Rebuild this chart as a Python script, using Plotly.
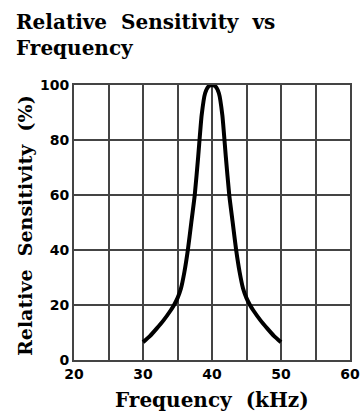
import plotly.graph_objects as go

freq_khz = [30, 31, 32, 33, 34, 34.5, 35, 35.5, 36, 36.5, 37, 37.5, 38, 38.5, 39, 39.5, 40,
            40.5, 41, 41.5, 42, 42.5, 43, 43.5, 44, 44.5, 45, 45.5, 46, 47, 48, 49, 50]
sensitivity = [6.5, 8.7, 11.5, 14.5, 18, 20, 22.5, 26, 32, 40, 50, 60, 74, 89, 97, 99.5, 100,
               99.5, 97, 89, 74, 60, 50, 40, 32, 26, 22.5, 20, 18, 14.5, 11.5, 8.7, 6.5]
x_grid = [20, 25, 30, 35, 40, 45, 50, 55, 60]
x_tick_labels = ["20", "", "30", "", "40", "", "50", "", "60"]
y_ticks = [0, 20, 40, 60, 80, 100]

serif = "DejaVu Serif"
tickfont = dict(family="DejaVu Sans", size=14, color="black", weight="bold")
titlefont = dict(family=serif, size=20, color="black", weight="bold")
yfont = dict(family=serif, size=19, color="black", weight="bold")

fig = go.Figure()
fig.add_trace(go.Scatter(
    x=freq_khz, y=sensitivity, mode="lines",
    line=dict(color="black", width=4, shape="spline", smoothing=0.5),
    hoverinfo="skip", showlegend=False,
))

axis_common = dict(
    showgrid=True, gridcolor="#444444", gridwidth=1.5,
    showline=True, linecolor="#444444", linewidth=2, mirror=True,
    zeroline=False, ticks="", tickfont=tickfont, automargin=False,
)
fig.update_xaxes(range=[20, 60], tickvals=x_grid, ticktext=x_tick_labels, **axis_common)
fig.update_yaxes(range=[0, 100], tickvals=y_ticks, **axis_common)

# Plot area in page pixels: x 74..350, y 85..360
def px_x(X):
    return (X - 74) / 276

def px_y(Y):
    return (360 - Y) / 275

fig.add_annotation(
    text="Relative  Sensitivity  vs<br>Frequency",
    xref="paper", yref="paper", x=px_x(14), y=px_y(8),
    xanchor="left", yanchor="top", showarrow=False, align="left",
    font=titlefont,
)
fig.add_annotation(
    text="Frequency  (kHz)",
    xref="paper", yref="paper", x=0.5, y=px_y(400),
    xanchor="center", yanchor="middle", showarrow=False,
    font=titlefont,
)
fig.add_annotation(
    text="Relative  Sensitivity  (%)",
    xref="paper", yref="paper", x=px_x(25), y=px_y(226),
    xanchor="center", yanchor="middle", showarrow=False, textangle=-90,
    font=yfont,
)

fig.update_layout(
    width=362, height=412,
    margin=dict(l=74, r=12, t=85, b=52),
    paper_bgcolor="white", plot_bgcolor="white",
)
fig.write_html("out.html", config={"displayModeBar": False},
               post_script="document.body.style.margin='0';")
